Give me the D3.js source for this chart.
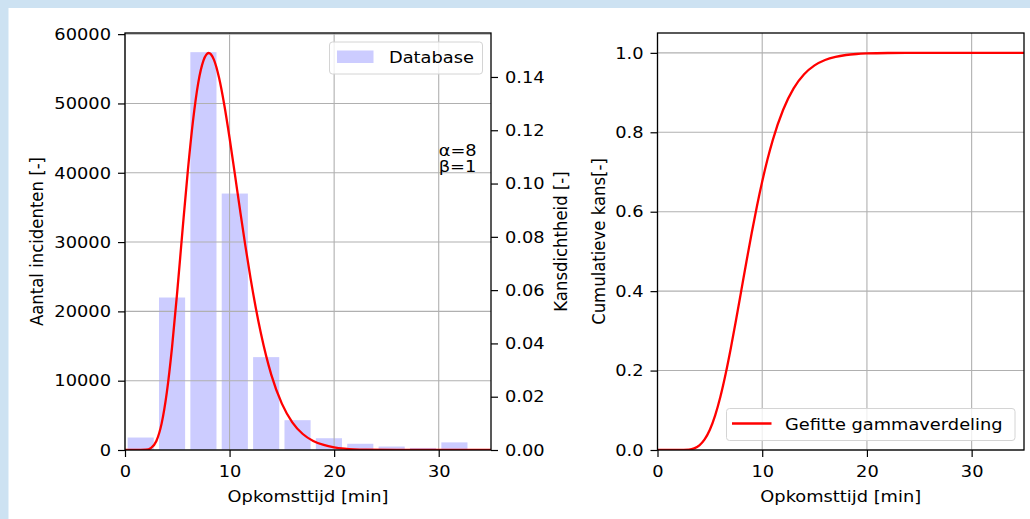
<!DOCTYPE html>
<html><head><meta charset="utf-8">
<script src="https://cdn.jsdelivr.net/npm/d3@7"></script>
<style>
html,body{margin:0;padding:0;background:#fff;}
svg{display:block;}
text{font-family:"DejaVu Sans",sans-serif;font-size:16.5px;fill:#000;}
.sx{transform-box:fill-box;transform:scaleX(1.08);}
.sx-end{transform-origin:right center;}
.sx-mid{transform-origin:center center;}
.sx-start{transform-origin:left center;}
</style></head><body>
<svg id="c" width="1030" height="519"></svg>
<script>
// ---------- data ----------
const binStart = [0, 3, 6, 9, 12, 15, 18, 21, 24, 27, 30];
const binEnd   = [3, 6, 9, 12, 15, 18, 21, 24, 27, 30, 33];
const counts   = [1800, 22000, 57400, 37000, 13400, 4300, 1700, 900, 500, 300, 1100];

const pdfX = [0,1,2,2.5,3,3.5,4,4.5,5,5.5,6,6.5,7,7.5,8,8.5,9,9.5,10,10.5,11,11.5,12,12.5,13,14,15,16,17,18,19,20,21,23,26,30,35];
const pdfY = [0,0,0.0001,0.0008,0.0034,0.0099,0.0216,0.0386,0.0596,0.0824,0.1044,0.1234,0.1377,0.1461,0.1490,0.1465,0.1396,0.1294,0.1171,0.1037,0.0901,0.0769,0.0646,0.0535,0.0437,0.0281,0.0174,0.0104,0.0060,0.0034,0.0019,0.0010,0.0005,0.0001,0,0,0];

const cdfX = [0,1,2,3,3.5,4,4.5,5,5.5,6,6.5,7,7.5,8,8.5,9,9.5,10,10.5,11,12,13,14,15,16,17,18,19,20,22,25,35];
const cdfY = [0,0,0,0.0011,0.0042,0.0119,0.0267,0.0511,0.0866,0.1334,0.1905,0.2560,0.3272,0.4013,0.4754,0.5470,0.6144,0.6761,0.7313,0.7798,0.8568,0.9105,0.9460,0.9684,0.9820,0.9900,0.9946,0.9971,0.9985,0.9997,1,1];

const xTicks     = [0, 10, 20, 30];
const countTicks = [0, 10000, 20000, 30000, 40000, 50000, 60000];
const pdfTicks   = [0, 0.02, 0.04, 0.06, 0.08, 0.10, 0.12, 0.14];
const cdfTicks   = [0, 0.2, 0.4, 0.6, 0.8, 1.0];

const xLabel     = "Opkomsttijd [min]";
const countLabel = "Aantal incidenten [-]";
const pdfLabel   = "Kansdichtheid [-]";
const cdfLabel   = "Cumulatieve kans[-]";
const histName   = "Database";
const fitName    = "Gefitte gammaverdeling";
const paramLines = ["α=8", "β=1"];

// ---------- layout ----------
const svg = d3.select("#c");
const BG = "#cde2f2", BAR = "#ccccff", RED = "#ff0000", GRID = "#b0b0b0";
const T = 33, B = 450;
const P1 = {l:125, r:491}, P2 = {l:657.5, r:1024};
const SX = 1.08;

svg.append("rect").attr("width",1030).attr("height",519).attr("fill",BG);
svg.append("rect").attr("x",8.5).attr("y",8).attr("width",1030).attr("height",519).attr("fill","#fff");

const x1 = d3.scaleLinear().domain([0,35]).range([P1.l,P1.r]);
const x2 = d3.scaleLinear().domain([0,35]).range([P2.l,P2.r]);
const yC = d3.scaleLinear().domain([0,60165]).range([B,T]);
const yP = d3.scaleLinear().domain([0,0.1565]).range([B,T]);
const yF = d3.scaleLinear().domain([0,1.05]).range([B,T]);

function styleAxis(g, cls){
  g.selectAll("path.domain").remove();
  g.selectAll(".tick line").attr("stroke","#000").attr("stroke-width",1.2);
  g.selectAll(".tick text").attr("class","sx "+cls).style("font-size","16.5px")
    .style("font-family","'DejaVu Sans',sans-serif").attr("fill","#000");
}
function label(x,y,txt,anchor,rot){
  const t = svg.append("text").attr("text-anchor",anchor).text(txt);
  t.attr("transform",`translate(${x},${y}) scale(${SX},1)`+(rot?" rotate(-90)":""));
  return t;
}
function grid(xs, ys, xt, yt){
  const g = svg.append("g");
  g.selectAll("line.vx").data(xt).join("line")
    .attr("x1",d=>xs(d)).attr("x2",d=>xs(d)).attr("y1",T).attr("y2",B)
    .attr("stroke",GRID).attr("stroke-width",1.1);
  g.selectAll("line.hy").data(yt).join("line")
    .attr("x1",xs.range()[0]).attr("x2",xs.range()[1]).attr("y1",d=>ys(d)).attr("y2",d=>ys(d))
    .attr("stroke",GRID).attr("stroke-width",1.1);
}

// clip paths
const defs = svg.append("defs");
defs.append("clipPath").attr("id","cl1").append("rect").attr("x",P1.l).attr("y",T).attr("width",P1.r-P1.l).attr("height",B-T);
defs.append("clipPath").attr("id","cl2").append("rect").attr("x",P2.l).attr("y",T).attr("width",P2.r-P2.l).attr("height",B-T);

// ---------- left panel ----------
const rw = 0.833;
const bins = binStart.map((s,i)=>({s, e:binEnd[i], c:counts[i]}));
svg.append("g").attr("clip-path","url(#cl1)").selectAll("rect").data(bins).join("rect")
  .attr("x",d=>x1(d.s + (d.e-d.s)*(1-rw)/2))
  .attr("width",d=>x1(d.s + (d.e-d.s)*rw) - x1(d.s))
  .attr("y",d=>yC(d.c)).attr("height",d=>B-yC(d.c))
  .attr("fill",BAR);

grid(x1, yC, xTicks, countTicks);

const lineP = d3.line().x((d,i)=>x1(pdfX[i])).y(d=>yP(d)).curve(d3.curveMonotoneX);
svg.append("path").attr("clip-path","url(#cl1)").datum(pdfY).attr("d",lineP)
  .attr("fill","none").attr("stroke",RED).attr("stroke-width",2.3);

svg.append("rect").attr("x",P1.l).attr("y",T).attr("width",P1.r-P1.l).attr("height",B-T)
  .attr("fill","none").attr("stroke","#000").attr("stroke-width",1.3);

styleAxis(svg.append("g").attr("transform",`translate(0,${B})`)
  .call(d3.axisBottom(x1).tickValues(xTicks).tickSize(7).tickPadding(8).tickSizeOuter(0).tickFormat(d3.format("d"))),"sx-mid");
styleAxis(svg.append("g").attr("transform",`translate(${P1.l},0)`)
  .call(d3.axisLeft(yC).tickValues(countTicks).tickSize(7).tickPadding(7).tickSizeOuter(0).tickFormat(d3.format("d"))),"sx-end");
styleAxis(svg.append("g").attr("transform",`translate(${P1.r},0)`)
  .call(d3.axisRight(yP).tickValues(pdfTicks).tickSize(7).tickPadding(7).tickSizeOuter(0).tickFormat(d3.format(".2f"))),"sx-start");

// parameter annotation
const ann = svg.append("text").attr("transform",`translate(${x1(30)},${yP(0.1105)}) scale(${SX},1)`);
ann.selectAll("tspan").data(paramLines).join("tspan").attr("x",0).attr("dy",(d,i)=>i?"16.5":"0").text(d=>d);

// legend left
const lg1 = svg.append("g");
lg1.append("rect").attr("x",329.5).attr("y",42).attr("width",153).attr("height",32).attr("rx",3)
  .attr("fill","#fff").attr("fill-opacity",0.8).attr("stroke","#d4d4d4").attr("stroke-width",1);
lg1.append("rect").attr("x",337).attr("y",50.5).attr("width",36.5).attr("height",12.5).attr("fill",BAR);
label(389,62.8,histName,"start");

// axis labels left
label((P1.l+P1.r)/2,502,xLabel,"middle");
label(43,(T+B)/2,countLabel,"middle",true);
label(567,(T+B)/2,pdfLabel,"middle",true);

// ---------- right panel ----------
grid(x2, yF, xTicks, cdfTicks);
const lineF = d3.line().x((d,i)=>x2(cdfX[i])).y(d=>yF(d)).curve(d3.curveMonotoneX);
svg.append("path").attr("clip-path","url(#cl2)").datum(cdfY).attr("d",lineF)
  .attr("fill","none").attr("stroke",RED).attr("stroke-width",2.3);
svg.append("rect").attr("x",P2.l).attr("y",T).attr("width",P2.r-P2.l).attr("height",B-T)
  .attr("fill","none").attr("stroke","#000").attr("stroke-width",1.3);

styleAxis(svg.append("g").attr("transform",`translate(0,${B})`)
  .call(d3.axisBottom(x2).tickValues(xTicks).tickSize(7).tickPadding(8).tickSizeOuter(0).tickFormat(d3.format("d"))),"sx-mid");
styleAxis(svg.append("g").attr("transform",`translate(${P2.l},0)`)
  .call(d3.axisLeft(yF).tickValues(cdfTicks).tickSize(7).tickPadding(7).tickSizeOuter(0).tickFormat(d3.format(".1f"))),"sx-end");

const lg2 = svg.append("g");
lg2.append("rect").attr("x",726.5).attr("y",408.5).attr("width",288.5).attr("height",32).attr("rx",3)
  .attr("fill","#fff").attr("fill-opacity",0.8).attr("stroke","#d4d4d4").attr("stroke-width",1);
lg2.append("line").attr("x1",732).attr("x2",771.5).attr("y1",423.5).attr("y2",423.5).attr("stroke",RED).attr("stroke-width",2.3);
label(785,429.5,fitName,"start");

label((P2.l+P2.r)/2,502,xLabel,"middle");
label(605,(T+B)/2,cdfLabel,"middle",true);
</script>
</body></html>
